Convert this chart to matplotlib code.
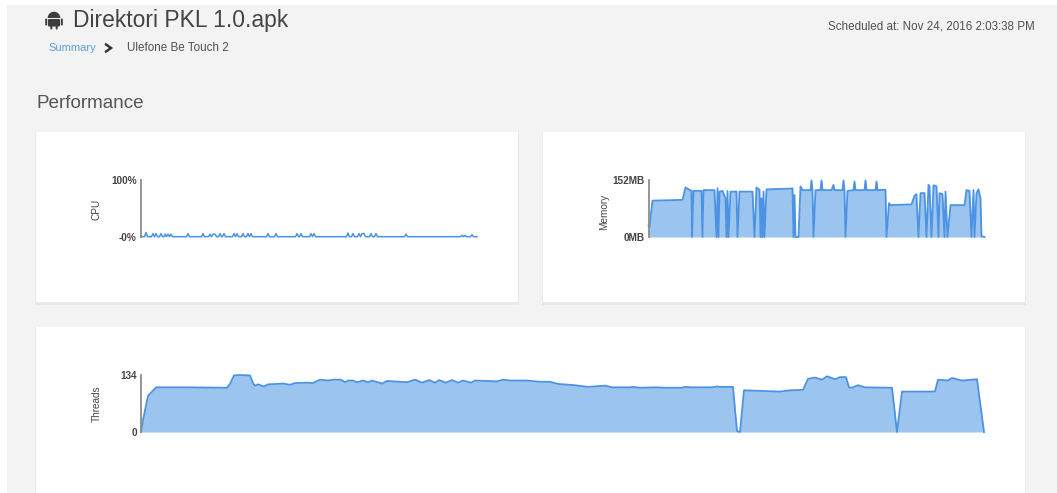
import matplotlib
matplotlib.use("Agg")
import matplotlib.pyplot as plt
from matplotlib.patches import Rectangle, Wedge, FancyBboxPatch

W, H = 1057, 493
FONT = "Liberation Sans"
plt.rcParams["font.family"] = FONT

TITLE = "Direktori PKL 1.0.apk"
CRUMB_LINK = "Summary"
CRUMB_PAGE = "Ulefone Be Touch 2"
SCHEDULED = "Scheduled at: Nov 24, 2016 2:03:38 PM"
SECTION = "Performance"

cpu_t = [0, 3.5, 5, 6.5, 10.5, 12, 13.5, 15, 16.5, 18.5, 20, 21.5, 23, 24, 25.5, 27, 28.5, 30, 31.5,
         45.5, 47, 48.5, 60.5, 62, 63.5, 67.5, 69, 70.5, 72, 74, 75.5, 77.5, 79, 80.5, 81.5, 83, 84.5,
         91.5, 93, 94.5, 96, 97.5, 100.5, 102, 103.5, 105.5, 107, 108.5, 110, 111.5,
         125.5, 127, 128.5, 133.5, 135, 136.5, 154.5, 156, 157.5, 158.5, 160, 161.5,
         168.5, 170, 171.5, 173, 174.5, 205.5, 207, 208.5, 210.5, 212, 213.5, 216.5, 218, 219.5, 221,
         223, 224.5, 228.5, 230, 231.5, 233.5, 235, 236.5, 263.5, 265, 266.5,
         319.5, 321, 322.5, 324, 325.5, 329.5, 331, 332.5, 336]
cpu_v = [0.5, 0.5, 8, 0.5, 0.5, 6, 0.5, 6, 0.5, 0.5, 6, 0.5, 0.5, 5, 0.5, 5, 0.5, 5, 0.5,
         0.5, 6, 0.5, 0.5, 6, 0.5, 0.5, 5, 0.5, 5, 5, 0.5, 0.5, 6, 0.5, 0.5, 6, 0.5,
         0.5, 6, 0.5, 6, 0.5, 0.5, 6, 0.5, 0.5, 6, 0.5, 6, 0.5,
         0.5, 6, 0.5, 0.5, 6, 0.5, 0.5, 6, 0.5, 0.5, 6, 0.5,
         0.5, 6, 0.5, 6, 0.5, 0.5, 7, 0.5, 0.5, 6, 0.5, 0.5, 6, 0.5, 6,
         6, 0.5, 0.5, 6, 0.5, 0.5, 6, 0.5, 0.5, 5, 0.5,
         0.5, 3, 0.5, 3, 0.5, 0.5, 4, 0.5, 0.5]

mem_t = [0, 1, 4, 34, 37, 41, 43, 43.5, 45, 53, 54, 55, 66, 68, 69, 70, 71, 74, 77, 78, 79, 80, 82, 88, 89, 91,
         104, 106, 108, 111, 112, 113, 114, 115, 116, 118, 142, 144, 145, 146, 147, 150, 152, 154, 162, 163, 164,
         165, 167, 172, 173, 174, 183, 185, 186, 194, 195, 196, 197, 199, 205, 206, 207, 216, 217, 218, 227, 228,
         229, 237, 238, 240.5, 242, 263, 266, 268, 270, 272, 276, 278, 280, 281, 283, 285, 288, 290, 291, 294, 296,
         297, 299, 302, 316, 318, 321, 323, 325, 326, 328, 330, 332, 333, 336]
mem_v = [31, 27, 97, 99, 132, 126, 123, 0, 123, 123, 0, 125, 125, 0, 130, 0, 121, 123, 103, 0, 123, 0, 121, 121, 0, 121,
         121, 0, 132, 126, 0, 103, 0, 121, 0, 127, 129, 130, 0, 112, 0, 0, 135, 125, 125, 151, 125,
         0, 125, 125, 151, 125, 125, 139, 125, 125, 151, 125, 0, 123, 125, 148, 125, 125, 151, 125, 125, 148,
         125, 126, 0, 90, 85, 87, 110, 114, 0, 117, 117, 0, 139, 135, 0, 138, 135, 0, 117, 114, 0,
         121, 0, 85, 85, 125, 123, 0, 125, 0, 117, 127, 103, 2, 0]

thr_t = [0, 2, 7, 15, 46, 86, 89, 93, 99, 109, 112, 114, 117, 123, 127, 136, 142, 149, 154, 166, 172, 179, 187, 192,
         200, 204, 207, 212, 216, 222, 227, 231, 241, 246, 266, 274, 281, 288, 294, 298, 305, 311, 317, 322, 330, 334,
         356, 362, 369, 386, 399, 409, 417, 434, 447, 464, 471, 489, 492, 499, 516, 524, 541, 544, 551, 571, 576, 579,
         592, 596, 599, 603, 639, 649, 662, 667, 674, 681, 686, 694, 699, 705, 708, 711, 717, 724, 751, 756, 761, 794,
         797, 807, 811, 821, 836, 843]
thr_v = [0, 28, 85, 105, 105, 104, 113, 133, 134, 133, 115, 109, 112, 107, 112, 113, 114, 111, 115, 116, 115, 123, 121, 123,
         123, 117, 121, 121, 117, 121, 117, 121, 114, 120, 117, 123, 116, 122, 116, 122, 116, 122, 116, 121, 116, 121,
         119, 123, 121, 121, 118, 118, 113, 110, 106, 109, 105, 105, 106, 104, 105, 104, 104, 106, 105, 105, 107, 106,
         106, 2, 0, 98, 95, 98, 99, 125, 128, 123, 131, 124, 129, 129, 105, 104, 110, 105, 104, 0, 95, 95,
         123, 121, 127, 121, 124, 0]

GRAY = "#f3f3f3"
LINE = "#4c93e3"
FILL = "#9bc4ee"
AXIS = "#8c8c8c"
INK = "#444444"

fig = plt.figure(figsize=(W / 100, H / 100), dpi=100, facecolor="white")
bg = fig.add_axes([0, 0, 1, 1])
bg.set_xlim(0, W)
bg.set_ylim(H, 0)
bg.axis("off")

bg.add_patch(Rectangle((7, 5), W - 7, H - 5, fc=GRAY, ec="none"))
for x0, y0, x1, y1 in [(36, 132, 518, 302), (543, 132, 1025, 302), (36, 327, 1025, 500)]:
    bg.add_patch(Rectangle((x0 - 1, y0), x1 - x0 + 2, y1 - y0 + 2.5, fc="#e9e9e9", ec="none"))
    bg.add_patch(Rectangle((x0, y0), x1 - x0, y1 - y0, fc="white", ec="none"))

# Android glyph
DARK = "#3d3d3d"
bg.add_patch(Wedge((54, 18), 6.3, 180, 360, fc=DARK, ec="none"))
bg.add_patch(FancyBboxPatch((48, 19), 12, 7.5, boxstyle="round,pad=0,rounding_size=1", fc=DARK, ec="none"))
for ax_x in (45.2, 60.8):
    bg.add_patch(FancyBboxPatch((ax_x, 18.5), 2, 7, boxstyle="round,pad=0,rounding_size=1", fc=DARK, ec="none"))
for leg_x in (50.3, 55.7):
    bg.add_patch(FancyBboxPatch((leg_x, 25), 2, 4.5, boxstyle="round,pad=0,rounding_size=1", fc=DARK, ec="none"))

bg.text(73, 20, TITLE, fontsize=16.5, color="#444444", va="center", ha="left")
bg.text(48.5, 48, CRUMB_LINK, fontsize=8.0, color="#5aa0da", va="center", ha="left")
bg.plot([106, 111, 106], [44.5, 48, 51.5], color="#333333", lw=1.7, solid_joinstyle="miter")
bg.text(127, 48, CRUMB_PAGE, fontsize=8.35, color="#505050", va="center", ha="left")
bg.text(1035, 26.5, SCHEDULED, fontsize=8.35, color="#505050", va="center", ha="right")
bg.text(36, 103.5, SECTION, fontsize=13.6, color="#555555", va="center", ha="left")


def chart(x0, x1, ytop, ybot, t, v, ymax, ticks, labels, name, label_x, label_y, lw, filled=True):
    ax = fig.add_axes([x0 / W, 1 - ybot / H, (x1 - x0) / W, (ybot - ytop) / H])
    ax.patch.set_alpha(0)
    ax.set_xlim(0, x1 - x0)
    ax.set_ylim(0, ymax)
    if filled:
        ax.fill_between(t, 0, v, color=FILL, lw=0, clip_on=False)
    ax.plot(t, v, color=LINE, lw=lw, clip_on=False, solid_joinstyle="round")
    for s in ("top", "right", "bottom"):
        ax.spines[s].set_visible(False)
    ax.spines["left"].set_color(AXIS)
    ax.spines["left"].set_linewidth(1.3)
    ax.set_xticks([])
    ax.set_yticks(ticks)
    ax.set_yticklabels(labels, fontsize=7.2, fontweight="bold", color=INK)
    ax.tick_params(axis="y", length=0, pad=3)
    bg.text(label_x, label_y, name, rotation=90, fontsize=7.2, color=INK, va="center", ha="center")
    return ax


chart(141, 478, 180, 237, cpu_t, cpu_v, 100, [0, 100], ["-0%", "100%"], "CPU", 97, 209, 1.1, filled=False)
chart(648.5, 985, 180, 237, mem_t, mem_v, 152, [0, 152], ["0MB", "152MB"], "Memory", 604, 212, 1.3)
chart(141, 985, 375, 432, thr_t, thr_v, 134, [0, 134], ["0", "134"], "Threads", 97, 404, 1.3)

fig.savefig("out.png", dpi=100, facecolor="white")
